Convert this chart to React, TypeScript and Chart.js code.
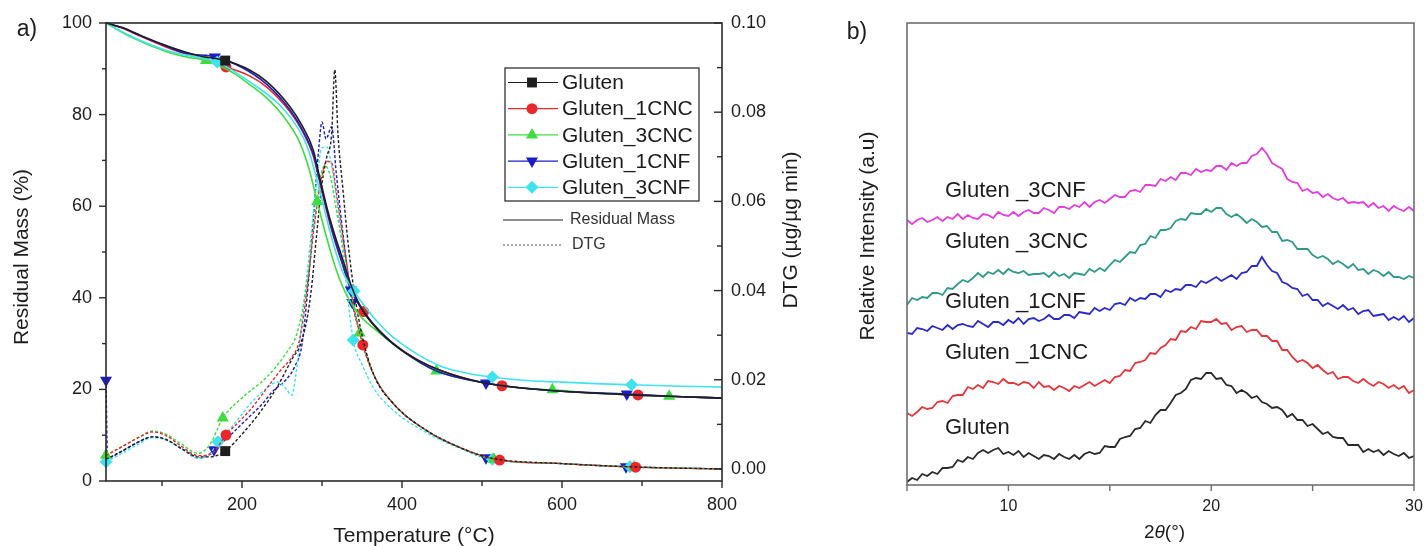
import React, { useEffect, useRef } from 'react';
import { Chart, registerables } from 'chart.js';

Chart.register(...registerables);

const FONT = '"Liberation Sans", Arial, Helvetica, sans-serif';

// ---------------- Panel a) : TGA / DTG ----------------
const tempTicks = [200, 400, 600, 800];
const tempMinorTicks = [100, 300, 500, 700];
const massTicks = [0, 20, 40, 60, 80, 100];
const massMinorTicks = [10, 30, 50, 70, 90];
const dtgTicks = [0, 0.02, 0.04, 0.06, 0.08, 0.1];
const dtgMinorTicks = [0.01, 0.03, 0.05, 0.07, 0.09];

const seriesNames = ['Gluten', 'Gluten_1CNC', 'Gluten_3CNC', 'Gluten_1CNF', 'Gluten_3CNF'];

// Residual mass (%) vs temperature (°C)
const glutenTgaT = [30, 50, 72, 100, 130, 150, 179, 210, 231, 260, 276, 289, 297, 306, 314, 325, 337, 350, 370, 390, 420, 450, 500, 550, 600, 650, 700, 750, 800];
const glutenTgaV = [100, 99.0, 97.4, 95.4, 93.6, 92.7, 91.8, 89.7, 87.2, 81.7, 77.3, 72.3, 66.4, 59.8, 54.8, 48.9, 42.4, 37.5, 33.0, 29.8, 26.4, 24.0, 21.5, 20.3, 19.6, 19.1, 18.7, 18.4, 18.1];
const glutenTgaMarks = [179];

const cnc1TgaT = [30, 50, 72, 100, 130, 150, 180, 210, 231, 260, 276, 289, 297, 306, 314, 325, 337, 352, 370, 390, 420, 450, 500, 525, 550, 600, 650, 695, 750, 800];
const cnc1TgaV = [100, 98.9, 97.2, 95.1, 93.2, 92.3, 90.4, 88.4, 86.0, 80.6, 76.2, 71.0, 65.4, 58.8, 53.6, 47.6, 41.8, 37.0, 33.0, 29.9, 26.4, 24.0, 21.5, 20.8, 20.3, 19.6, 19.1, 18.8, 18.4, 18.1];
const cnc1TgaMarks = [180, 352, 525, 695];

const cnc3TgaT = [30, 64, 106, 130, 155, 189, 210, 231, 250, 272, 284, 294, 306, 318, 331, 347, 372, 400, 443, 480, 520, 550, 588, 650, 700, 734, 800];
const cnc3TgaV = [100, 96.7, 93.7, 92.6, 91.8, 89.1, 86.5, 83.6, 80.0, 74.0, 68.0, 61.0, 53.0, 46.0, 40.5, 36.2, 32.3, 28.4, 24.0, 22.2, 20.9, 20.3, 19.9, 19.1, 18.7, 18.5, 18.1];
const cnc3TgaMarks = [155, 294, 443, 588, 734];

const cnf1TgaT = [30, 50, 72, 100, 130, 166, 200, 231, 260, 276, 289, 297, 306, 314, 325, 336, 355, 372, 400, 443, 505, 550, 600, 681, 750, 800];
const cnf1TgaV = [100, 99.0, 97.3, 95.3, 93.4, 92.6, 90.3, 86.6, 81.0, 76.5, 71.4, 65.8, 59.3, 54.0, 47.8, 41.7, 36.3, 32.8, 28.5, 24.0, 21.4, 20.3, 19.6, 19.0, 18.4, 18.1];
const cnf1TgaMarks = [166, 336, 505, 681];

const cnf3TgaT = [30, 64, 106, 150, 169, 210, 251, 276, 283, 293, 303, 313, 325, 340, 347, 370, 388, 420, 451, 480, 513, 550, 597, 650, 687, 750, 800];
const cnf3TgaV = [100, 96.9, 94.0, 92.3, 91.5, 87.1, 81.4, 75.2, 72.3, 66.3, 59.3, 52.5, 46.0, 41.5, 39.7, 34.6, 31.5, 27.6, 24.9, 23.6, 22.7, 22.0, 21.6, 21.2, 21.0, 20.7, 20.5];
const cnf3TgaMarks = [169, 340, 513, 687];

// DTG (µg/µg min) vs temperature (°C)
const glutenDtgT = [30, 50, 70, 88, 105, 125, 145, 160, 179, 197, 222, 244, 264, 272, 281, 287, 293, 300, 306, 312, 316, 320, 326, 333, 340, 350, 365, 390, 430, 470, 510, 600, 700, 800];
const glutenDtgV = [0.0022, 0.0040, 0.0060, 0.0072, 0.0066, 0.0045, 0.0027, 0.0027, 0.0040, 0.0072, 0.0126, 0.0184, 0.0251, 0.0274, 0.0334, 0.0408, 0.0520, 0.0640, 0.0700, 0.0750, 0.0895, 0.0750, 0.0630, 0.0500, 0.0400, 0.0300, 0.0210, 0.0145, 0.0087, 0.0050, 0.0025, 0.0012, 0.0004, 0.0];
const glutenDtgMarks = [179];

const cnc1DtgT = [30, 50, 70, 88, 105, 125, 145, 160, 180, 210, 239, 250, 262, 272, 281, 290, 298, 306, 312, 318, 326, 336, 351, 365, 390, 430, 470, 522, 600, 692, 800];
const cnc1DtgV = [0.0030, 0.0050, 0.0070, 0.0083, 0.0075, 0.0050, 0.0030, 0.0032, 0.0076, 0.0132, 0.0200, 0.0225, 0.0250, 0.0290, 0.0400, 0.0540, 0.0640, 0.0690, 0.0686, 0.0620, 0.0520, 0.0400, 0.0278, 0.0210, 0.0145, 0.0087, 0.0050, 0.0020, 0.0012, 0.0004, 0.0];
const cnc1DtgMarks = [180, 351, 522, 692];

const cnc3DtgT = [30, 50, 70, 88, 105, 125, 145, 160, 176, 201, 231, 256, 268, 278, 287, 295, 303, 310, 318, 326, 336, 347, 365, 390, 430, 470, 515, 600, 690, 800];
const cnc3DtgV = [0.0031, 0.0050, 0.0070, 0.0085, 0.0078, 0.0055, 0.0035, 0.0055, 0.0114, 0.0161, 0.0206, 0.0262, 0.0300, 0.0380, 0.0500, 0.0620, 0.0680, 0.0660, 0.0580, 0.0500, 0.0400, 0.0305, 0.0210, 0.0145, 0.0087, 0.0050, 0.0022, 0.0012, 0.0004, 0.0];
const cnc3DtgMarks = [30, 176, 347, 515, 690];

const cnf1DtgT = [30, 32, 50, 70, 88, 105, 125, 145, 155, 165, 185, 205, 225, 239, 255, 266, 275, 283, 290, 296, 300, 305, 312, 318, 326, 338, 350, 365, 390, 430, 470, 505, 600, 680, 800];
const cnf1DtgV = [0.0199, 0.0025, 0.0040, 0.0060, 0.0072, 0.0066, 0.0045, 0.0025, 0.0028, 0.0043, 0.0075, 0.0110, 0.0145, 0.0175, 0.0200, 0.0230, 0.0280, 0.0420, 0.0580, 0.0720, 0.0778, 0.0740, 0.0767, 0.0660, 0.0530, 0.0373, 0.0290, 0.0210, 0.0145, 0.0087, 0.0050, 0.0025, 0.0012, 0.0005, 0.0];
const cnf1DtgMarks = [30, 165, 338, 505, 680];

const cnf3DtgT = [30, 50, 70, 88, 105, 125, 145, 158, 170, 190, 210, 230, 245, 255, 262, 268, 276, 285, 293, 300, 306, 312, 320, 330, 339, 350, 365, 390, 430, 470, 513, 600, 685, 800];
const cnf3DtgV = [0.0016, 0.0035, 0.0055, 0.0070, 0.0065, 0.0045, 0.0025, 0.0030, 0.0061, 0.0100, 0.0145, 0.0180, 0.0195, 0.0180, 0.0165, 0.0220, 0.0350, 0.0500, 0.0640, 0.0720, 0.0722, 0.0680, 0.0580, 0.0420, 0.0289, 0.0235, 0.0180, 0.0130, 0.0082, 0.0048, 0.0022, 0.0012, 0.0005, 0.0];
const cnf3DtgMarks = [30, 170, 339, 513, 685];

// ---------------- Panel b) : XRD ----------------
const xrdTicks = [10, 20, 30];
const xrdMinorTicks = [5, 15, 25];
const xrdNames = ['Gluten _3CNF', 'Gluten _3CNC', 'Gluten _1CNF', 'Gluten _1CNC', 'Gluten'];
const xrdTwoTheta = [
  5, 5.25, 5.5, 5.75, 6, 6.25, 6.5, 6.75, 7, 7.25, 7.5, 7.75, 8, 8.25, 8.5, 8.75, 9, 9.25, 9.5, 9.75,
  10, 10.25, 10.5, 10.75, 11, 11.25, 11.5, 11.75, 12, 12.25, 12.5, 12.75, 13, 13.25, 13.5, 13.75, 14, 14.25, 14.5, 14.75,
  15, 15.25, 15.5, 15.75, 16, 16.25, 16.5, 16.75, 17, 17.25, 17.5, 17.75, 18, 18.25, 18.5, 18.75, 19, 19.25, 19.5, 19.75,
  20, 20.25, 20.5, 20.75, 21, 21.25, 21.5, 21.75, 22, 22.25, 22.5, 22.75, 23, 23.25, 23.5, 23.75, 24, 24.25, 24.5, 24.75,
  25, 25.25, 25.5, 25.75, 26, 26.25, 26.5, 26.75, 27, 27.25, 27.5, 27.75, 28, 28.25, 28.5, 28.75, 29, 29.25, 29.5, 29.75, 30,
];
const xrdGluten = [2, 6, 4, 10, 8, 12, 10, 16, 16, 17, 24, 22, 27, 25, 31, 34, 31, 34, 36, 30, 32, 29, 33, 27, 31, 28, 25, 29, 28, 25, 30, 27, 25, 29, 25, 30, 32, 30, 31, 38, 37, 37, 45, 47, 48, 55, 56, 63, 61, 69, 74, 74, 81, 89, 91, 95, 104, 106, 105, 111, 111, 105, 106, 99, 98, 91, 94, 91, 86, 88, 82, 80, 76, 77, 74, 67, 70, 64, 64, 58, 60, 55, 50, 52, 47, 46, 46, 39, 39, 39, 32, 35, 32, 34, 29, 33, 30, 28, 31, 26, 28];
const xrd1CNC = [71, 68, 72, 77, 75, 76, 82, 83, 81, 88, 89, 89, 97, 95, 99, 96, 103, 102, 100, 105, 101, 101, 99, 102, 101, 96, 102, 97, 98, 94, 98, 96, 93, 98, 96, 99, 102, 98, 101, 104, 101, 107, 108, 114, 113, 121, 122, 124, 131, 130, 136, 139, 145, 144, 153, 152, 157, 155, 163, 162, 162, 165, 160, 161, 154, 157, 158, 152, 154, 154, 148, 148, 143, 143, 134, 134, 127, 122, 124, 121, 116, 119, 114, 110, 112, 105, 107, 107, 103, 101, 105, 101, 98, 102, 100, 96, 99, 95, 98, 91, 94];
const xrd1CNF = [151, 150, 156, 155, 153, 158, 156, 154, 159, 155, 159, 160, 158, 157, 163, 160, 157, 162, 162, 159, 164, 161, 166, 160, 165, 166, 163, 165, 169, 165, 165, 169, 169, 166, 172, 171, 170, 176, 173, 176, 174, 180, 181, 179, 186, 183, 186, 185, 190, 190, 187, 194, 192, 195, 194, 199, 199, 197, 203, 201, 204, 207, 203, 206, 209, 205, 211, 212, 218, 218, 227, 219, 213, 211, 202, 200, 196, 195, 188, 190, 184, 184, 178, 181, 178, 175, 179, 174, 176, 170, 173, 174, 168, 169, 170, 164, 167, 164, 168, 162, 166];
const xrd3CNC = [179, 186, 184, 187, 186, 191, 191, 189, 196, 195, 200, 204, 202, 206, 211, 207, 212, 210, 214, 210, 215, 212, 211, 213, 209, 210, 210, 211, 207, 212, 208, 210, 206, 211, 210, 209, 215, 212, 216, 213, 219, 224, 222, 227, 232, 231, 239, 240, 248, 246, 254, 254, 256, 263, 265, 264, 271, 270, 270, 275, 272, 276, 276, 270, 267, 270, 266, 261, 265, 262, 257, 258, 252, 252, 243, 244, 242, 235, 235, 235, 229, 226, 228, 225, 220, 223, 220, 216, 220, 214, 215, 210, 214, 212, 208, 212, 207, 207, 205, 208, 206];
const xrd3CNF = [264, 260, 264, 266, 262, 264, 267, 263, 267, 265, 270, 265, 269, 266, 265, 270, 269, 266, 272, 269, 268, 272, 268, 272, 274, 271, 271, 276, 274, 271, 277, 277, 275, 279, 277, 282, 277, 282, 284, 281, 285, 289, 287, 287, 293, 294, 292, 299, 299, 298, 305, 303, 307, 304, 311, 311, 309, 315, 312, 314, 313, 318, 318, 314, 321, 318, 321, 321, 328, 330, 336, 330, 321, 318, 315, 305, 302, 301, 293, 295, 291, 292, 287, 290, 286, 284, 286, 281, 282, 281, 282, 277, 281, 276, 278, 273, 278, 275, 273, 277, 273];

// ---------------- styles ----------------
const COLORS = ['#1e1e1e', '#e8282b', '#3fdc3f', '#1c1cc8', '#3fe3f0'];
const MARKERS: { style: string; rot: number; r: number }[] = [
  { style: 'rect', rot: 0, r: 7 },
  { style: 'circle', rot: 0, r: 5.5 },
  { style: 'triangle', rot: 0, r: 7 },
  { style: 'triangle', rot: 180, r: 7 },
  { style: 'rectRot', rot: 0, r: 6.5 },
];
const XRD_COLORS = ['#e23fdc', '#2f9a8c', '#2a2acc', '#e4363c', '#2a2a2a'];

function lineSet(i: number, t: number[], v: number[], marks: number[], axis: string, dashed: boolean) {
  const m = MARKERS[i];
  return {
    label: seriesNames[i] + (dashed ? ' DTG' : ''),
    data: t.map((x, k) => ({ x, y: v[k] })),
    yAxisID: axis,
    borderColor: COLORS[i],
    backgroundColor: COLORS[i],
    borderWidth: dashed ? 1.4 : 1.6,
    borderDash: dashed ? [3, 2] : [],
    pointStyle: m.style,
    pointRotation: m.rot,
    pointRadius: t.map((x) => (marks.includes(x) ? m.r : 0)),
    pointHoverRadius: 0,
    pointBorderWidth: 0,
    pointBackgroundColor: COLORS[i],
    cubicInterpolationMode: 'monotone',
    clip: false,
  };
}

function txt(ctx: CanvasRenderingContext2D, s: string, x: number, y: number, size: number, align: CanvasTextAlign = 'center', rot = 0, color = '#1c1c1c', style = '') {
  ctx.save();
  ctx.translate(x, y);
  ctx.rotate(rot);
  ctx.font = `${style} ${size}px ${FONT}`;
  ctx.fillStyle = color;
  ctx.textAlign = align;
  ctx.textBaseline = 'middle';
  ctx.fillText(s, 0, 0);
  ctx.restore();
}

function seg(ctx: CanvasRenderingContext2D, x1: number, y1: number, x2: number, y2: number) {
  ctx.beginPath();
  ctx.moveTo(x1, y1);
  ctx.lineTo(x2, y2);
  ctx.stroke();
}

function marker(ctx: CanvasRenderingContext2D, i: number, x: number, y: number) {
  const m = MARKERS[i];
  const r = m.r;
  ctx.save();
  ctx.fillStyle = COLORS[i];
  ctx.beginPath();
  if (m.style === 'rect') {
    const s = r * Math.SQRT1_2;
    ctx.rect(x - s, y - s, 2 * s, 2 * s);
  } else if (m.style === 'circle') {
    ctx.arc(x, y, r, 0, Math.PI * 2);
  } else if (m.style === 'triangle') {
    const sgn = m.rot ? -1 : 1;
    ctx.moveTo(x, y - sgn * r);
    ctx.lineTo(x + r * 0.866, y + sgn * r * 0.5);
    ctx.lineTo(x - r * 0.866, y + sgn * r * 0.5);
    ctx.closePath();
  } else {
    ctx.moveTo(x - r, y);
    ctx.lineTo(x, y - r);
    ctx.lineTo(x + r, y);
    ctx.lineTo(x, y + r);
    ctx.closePath();
  }
  ctx.fill();
  ctx.restore();
}

const leftDecor = {
  id: 'leftDecor',
  afterDraw(chart: any) {
    const { ctx, chartArea: ca, scales } = chart;
    const sx = scales.x, sy = scales.y, sy2 = scales.y2;
    ctx.save();
    ctx.strokeStyle = '#2a2a2a';
    ctx.lineWidth = 1.6;
    ctx.strokeRect(ca.left, ca.top, ca.right - ca.left, ca.bottom - ca.top);
    ctx.lineWidth = 1.4;
    massTicks.forEach((v) => { const p = sy.getPixelForValue(v); seg(ctx, ca.left - 7, p, ca.left, p); txt(ctx, String(v), ca.left - 14, p, 18, 'right'); });
    massMinorTicks.forEach((v) => { const p = sy.getPixelForValue(v); seg(ctx, ca.left - 4, p, ca.left, p); });
    tempTicks.forEach((v) => { const p = sx.getPixelForValue(v); seg(ctx, p, ca.bottom, p, ca.bottom + 7); txt(ctx, String(v), p, ca.bottom + 24, 18); });
    tempMinorTicks.forEach((v) => { const p = sx.getPixelForValue(v); seg(ctx, p, ca.bottom, p, ca.bottom + 5); });
    dtgTicks.forEach((v) => { const p = sy2.getPixelForValue(v); seg(ctx, ca.right - 8, p, ca.right, p); txt(ctx, v.toFixed(2), ca.right + 9, p, 18, 'left'); });
    dtgMinorTicks.forEach((v) => { const p = sy2.getPixelForValue(v); seg(ctx, ca.right - 5, p, ca.right, p); });

    // axis titles
    const midY = (ca.top + ca.bottom) / 2;
    txt(ctx, 'Residual Mass (%)', 22, midY + 5, 21, 'center', -Math.PI / 2);
    txt(ctx, 'Temperature (°C)', (ca.left + ca.right) / 2, 536, 21);
    txt(ctx, 'DTG (µg/µg min)', ca.right + 69, midY - 22, 21, 'center', -Math.PI / 2);
    txt(ctx, 'a)', 27, 30, 23);

    // legend
    const lx = 505, ly = 68, lw = 194, lh = 133;
    ctx.lineWidth = 1.2;
    ctx.strokeStyle = '#222';
    ctx.strokeRect(lx, ly, lw, lh);
    seriesNames.forEach((name, i) => {
      const yy = ly + 14.5 + i * 26.2;
      ctx.strokeStyle = COLORS[i];
      ctx.lineWidth = 1.2;
      seg(ctx, lx + 3, yy, lx + 53, yy);
      marker(ctx, i, lx + 27, yy);
      txt(ctx, name, lx + 57, yy + 1, 21, 'left');
    });
    ctx.strokeStyle = '#6a6a6a';
    ctx.lineWidth = 1.5;
    seg(ctx, 503, 220, 563, 220);
    txt(ctx, 'Residual Mass', 570, 220, 16, 'left', 0, '#333');
    ctx.setLineDash([2, 2]);
    ctx.strokeStyle = '#8a8a8a';
    seg(ctx, 503, 245, 563, 245);
    ctx.setLineDash([]);
    txt(ctx, 'DTG', 572, 245, 16, 'left', 0, '#333');
    ctx.restore();
  },
};

const rightDecor = {
  id: 'rightDecor',
  afterDraw(chart: any) {
    const { ctx, chartArea: ca, scales } = chart;
    const sx = scales.x;
    ctx.save();
    ctx.strokeStyle = '#6e6e6e';
    ctx.lineWidth = 1.6;
    ctx.strokeRect(ca.left, ca.top, ca.right - ca.left, ca.bottom - ca.top);
    ctx.lineWidth = 1.4;
    xrdTicks.forEach((v) => { const p = sx.getPixelForValue(v); seg(ctx, p, ca.bottom, p, ca.bottom + 6); txt(ctx, String(v), p, ca.bottom + 22, 16); });
    xrdMinorTicks.forEach((v) => { const p = sx.getPixelForValue(v); seg(ctx, p, ca.bottom, p, ca.bottom + 6); });

    txt(ctx, 'b)', 27, 33, 23);
    txt(ctx, 'Relative Intensity (a.u)', 38, 236, 21, 'center', -Math.PI / 2);

    // 2θ(°)
    const cx = (ca.left + ca.right) / 2 + 4, cy = 533;
    ctx.font = `19px ${FONT}`;
    const w1 = ctx.measureText('2').width;
    const w3 = ctx.measureText('(°)').width;
    ctx.font = `italic 19px ${FONT}`;
    const w2 = ctx.measureText('θ').width;
    const x0 = cx - (w1 + w2 + w3) / 2;
    txt(ctx, '2', x0, cy, 19, 'left');
    txt(ctx, 'θ', x0 + w1, cy, 19, 'left', 0, '#1c1c1c', 'italic');
    txt(ctx, '(°)', x0 + w1 + w2, cy, 19, 'left');

    const labelY = [191, 242, 302, 353, 428];
    xrdNames.forEach((n, i) => txt(ctx, n, 115, labelY[i], 22, 'left'));
    ctx.restore();
  },
};

function leftConfig(): any {
  const datasets = [
    lineSet(0, glutenTgaT, glutenTgaV, glutenTgaMarks, 'y', false),
    lineSet(4, cnf3TgaT, cnf3TgaV, cnf3TgaMarks, 'y', false),
    lineSet(3, cnf1TgaT, cnf1TgaV, cnf1TgaMarks, 'y', false),
    lineSet(2, cnc3TgaT, cnc3TgaV, cnc3TgaMarks, 'y', false),
    lineSet(1, cnc1TgaT, cnc1TgaV, cnc1TgaMarks, 'y', false),
    lineSet(0, glutenDtgT, glutenDtgV, glutenDtgMarks, 'y2', true),
    lineSet(1, cnc1DtgT, cnc1DtgV, cnc1DtgMarks, 'y2', true),
    lineSet(2, cnc3DtgT, cnc3DtgV, cnc3DtgMarks, 'y2', true),
    lineSet(4, cnf3DtgT, cnf3DtgV, cnf3DtgMarks, 'y2', true),
    lineSet(3, cnf1DtgT, cnf1DtgV, cnf1DtgMarks, 'y2', true),
  ];
  const hidden = { ticks: { display: false }, grid: { display: false }, border: { display: false } };
  return {
    type: 'line',
    data: { datasets },
    options: {
      responsive: false,
      animation: false,
      devicePixelRatio: 1,
      events: [],
      layout: { padding: { top: 23, left: 0, right: 0, bottom: 0 } },
      plugins: { legend: { display: false }, tooltip: { enabled: false } },
      scales: {
        x: { type: 'linear', min: 30, max: 800, ...hidden, afterFit: (s: any) => { s.height = 65; } },
        y: { type: 'linear', position: 'left', min: 0, max: 100, ...hidden, afterFit: (s: any) => { s.width = 106; } },
        y2: { type: 'linear', position: 'right', min: -0.0027, max: 0.1, ...hidden, afterFit: (s: any) => { s.width = 108; } },
      },
    },
    plugins: [leftDecor],
  };
}

function rightConfig(): any {
  const series = [xrd3CNF, xrd3CNC, xrd1CNF, xrd1CNC, xrdGluten];
  const datasets = series.map((vals, i) => ({
    label: xrdNames[i],
    data: xrdTwoTheta.map((x, k) => ({ x, y: vals[k] })),
    borderColor: XRD_COLORS[i],
    borderWidth: 1.8,
    pointRadius: 0,
    tension: 0,
  }));
  const hidden = { ticks: { display: false }, grid: { display: false }, border: { display: false } };
  return {
    type: 'line',
    data: { datasets },
    options: {
      responsive: false,
      animation: false,
      devicePixelRatio: 1,
      events: [],
      layout: { padding: { top: 23, left: 0, right: 12, bottom: 0 } },
      plugins: { legend: { display: false }, tooltip: { enabled: false } },
      scales: {
        x: { type: 'linear', min: 5, max: 30, ...hidden, afterFit: (s: any) => { s.height = 61; } },
        y: { type: 'linear', position: 'left', min: -1, max: 461, ...hidden, afterFit: (s: any) => { s.width = 77; } },
      },
    },
    plugins: [rightDecor],
  };
}

export default function App() {
  const leftRef = useRef<HTMLCanvasElement>(null);
  const rightRef = useRef<HTMLCanvasElement>(null);
  useEffect(() => {
    const c1 = new Chart(leftRef.current as HTMLCanvasElement, leftConfig());
    const c2 = new Chart(rightRef.current as HTMLCanvasElement, rightConfig());
    return () => {
      c1.destroy();
      c2.destroy();
    };
  }, []);
  return (
    <div style={{ position: 'fixed', left: 0, top: 0, width: 1426, height: 546, background: '#fff', overflow: 'hidden' }}>
      <canvas ref={leftRef} width={830} height={546} style={{ position: 'absolute', left: 0, top: 0, width: 830, height: 546 }} />
      <canvas ref={rightRef} width={596} height={546} style={{ position: 'absolute', left: 830, top: 0, width: 596, height: 546 }} />
    </div>
  );
}
